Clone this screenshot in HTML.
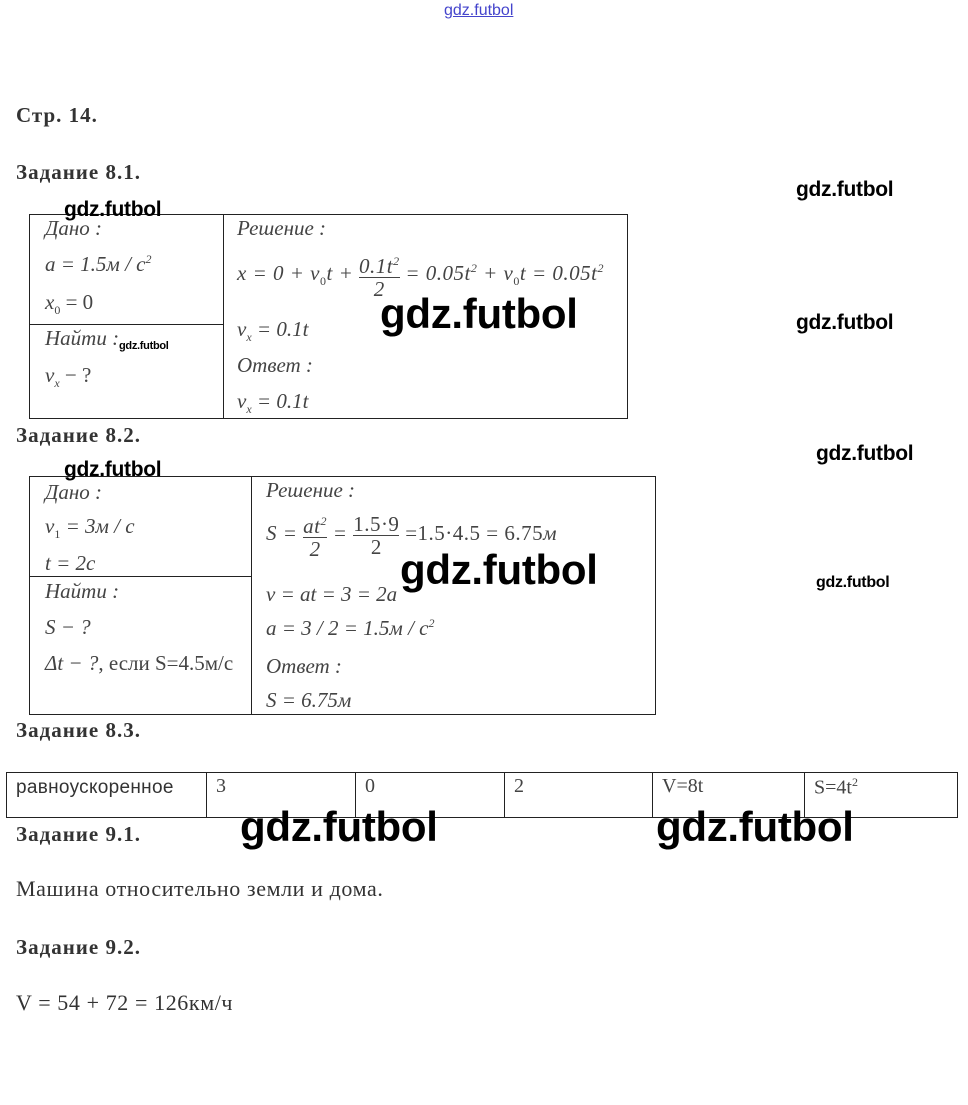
<!DOCTYPE html>
<html><head><meta charset="utf-8"><style>
body{margin:0;width:968px;height:1105px;background:#fff;position:relative;overflow:hidden;font-family:"Liberation Serif",serif;color:#222}
.a{position:absolute;white-space:nowrap}
.h{font-weight:bold;font-size:21px;color:#333;letter-spacing:1px}
.m{font-style:italic;font-size:21px;color:#444}
.n{font-style:normal}
.w{font-family:"Liberation Sans","DejaVu Sans",sans-serif;color:#000;font-weight:bold;letter-spacing:-0.3px}
.box{position:absolute;border:1px solid #222}
.l{position:absolute;background:#222}
sub,sup{font-size:12px}
.fr{display:inline-block;vertical-align:middle;text-align:center}
.fr span{display:block;line-height:22px}
.fr .t{border-bottom:1px solid #444}
</style></head><body>
<div class="a" style="left:444px;top:2px;font-size:16px;color:#4444cc;text-decoration:underline;font-family:'Liberation Sans',sans-serif">gdz.futbol</div>
<div class="a h" style="left:16px;top:103px">Стр. 14.</div>
<div class="a h" style="left:16px;top:160px">Задание 8.1.</div>
<div class="a w" style="left:796px;top:178px;font-size:21px">gdz.futbol</div>
<div class="a w" style="left:796px;top:311px;font-size:21px">gdz.futbol</div>

<div class="box" style="left:29px;top:214px;width:597px;height:203px"></div>
<div class="l" style="left:223px;top:214px;width:1px;height:204px"></div>
<div class="l" style="left:29px;top:324px;width:194px;height:1px"></div>
<div class="a m" style="left:45px;top:216px">Дано :</div>
<div class="a m" style="left:45px;top:252px">a = 1.5<span>м / с</span><sup>2</sup></div>
<div class="a m" style="left:45px;top:290px">x<sub class="n">0</sub> <span class="n">= 0</span></div>
<div class="a m" style="left:45px;top:326px">Найти :</div>
<div class="a m" style="left:45px;top:363px">v<sub>x</sub> <span class="n">− ?</span></div>
<div class="a m" style="left:237px;top:216px">Решение :</div>
<div class="a m" style="left:237px;top:250px;letter-spacing:0.5px">x = 0 + v<sub class="n">0</sub>t + <span class="fr"><span class="t">0.1t<sup>2</sup></span><span>2</span></span> = 0.05t<sup>2</sup> + v<sub class="n">0</sub>t = 0.05t<sup>2</sup></div>
<div class="a m" style="left:237px;top:317px">v<sub>x</sub> = 0.1t</div>
<div class="a m" style="left:237px;top:353px">Ответ :</div>
<div class="a m" style="left:237px;top:389px">v<sub>x</sub> = 0.1t</div>
<div class="a w" style="left:64px;top:198px;font-size:21px">gdz.futbol</div>
<div class="a w" style="left:119px;top:340px;font-size:11px">gdz.futbol</div>
<div class="a w" style="left:380px;top:290px;font-size:42px">gdz.futbol</div>

<div class="a h" style="left:16px;top:423px">Задание 8.2.</div>
<div class="a w" style="left:816px;top:442px;font-size:21px">gdz.futbol</div>
<div class="a w" style="left:816px;top:574px;font-size:16px">gdz.futbol</div>
<div class="box" style="left:29px;top:476px;width:625px;height:237px"></div>
<div class="l" style="left:251px;top:476px;width:1px;height:238px"></div>
<div class="l" style="left:29px;top:576px;width:222px;height:1px"></div>
<div class="a w" style="left:64px;top:458px;font-size:21px">gdz.futbol</div>
<div class="a m" style="left:45px;top:480px">Дано :</div>
<div class="a m" style="left:45px;top:514px">v<sub class="n">1</sub> = 3м / с</div>
<div class="a m" style="left:45px;top:551px">t = 2с</div>
<div class="a m" style="left:45px;top:579px">Найти :</div>
<div class="a m" style="left:45px;top:615px">S − ?</div>
<div class="a m" style="left:45px;top:651px">Δt − ?<span class="n">, если S=4.5м/с</span></div>
<div class="a m" style="left:266px;top:478px">Решение :</div>
<div class="a m" style="left:266px;top:510px;letter-spacing:0.5px">S = <span class="fr"><span class="t">at<sup>2</sup></span><span>2</span></span> = <span class="fr n"><span class="t">1.5·9</span><span>2</span></span> <span class="n">=1.5·4.5 = 6.75</span>м</div>
<div class="a m" style="left:266px;top:582px">v = at = 3 = 2a</div>
<div class="a m" style="left:266px;top:616px">a = 3 / 2 = 1.5м / с<sup>2</sup></div>
<div class="a m" style="left:266px;top:654px">Ответ :</div>
<div class="a m" style="left:266px;top:688px">S = 6.75м</div>
<div class="a w" style="left:400px;top:546px;font-size:42px">gdz.futbol</div>

<div class="a h" style="left:16px;top:718px">Задание 8.3.</div>
<div class="box" style="left:6px;top:772px;width:950px;height:44px"></div>
<div class="l" style="left:206px;top:772px;width:1px;height:45px"></div>
<div class="l" style="left:355px;top:772px;width:1px;height:45px"></div>
<div class="l" style="left:504px;top:772px;width:1px;height:45px"></div>
<div class="l" style="left:652px;top:772px;width:1px;height:45px"></div>
<div class="l" style="left:804px;top:772px;width:1px;height:45px"></div>
<div class="a" style="left:16px;top:777px;font-family:'Liberation Sans',sans-serif;font-size:19px;color:#333;letter-spacing:0.3px">равноускоренное</div>
<div class="a" style="left:216px;top:775px;font-size:20px;color:#444">3</div>
<div class="a" style="left:365px;top:775px;font-size:20px;color:#444">0</div>
<div class="a" style="left:514px;top:775px;font-size:20px;color:#444">2</div>
<div class="a" style="left:662px;top:775px;font-size:20px;color:#444">V=8t</div>
<div class="a" style="left:814px;top:775px;font-size:20px;color:#444">S=4t<sup>2</sup></div>

<div class="a h" style="left:16px;top:822px">Задание 9.1.</div>
<div class="a w" style="left:240px;top:803px;font-size:42px">gdz.futbol</div>
<div class="a w" style="left:656px;top:803px;font-size:42px">gdz.futbol</div>
<div class="a" style="left:16px;top:876px;font-size:22px;color:#333;letter-spacing:0.6px">Машина относительно земли и дома.</div>
<div class="a h" style="left:16px;top:935px">Задание 9.2.</div>
<div class="a" style="left:16px;top:990px;font-size:22px;color:#333;letter-spacing:0.6px">V = 54 + 72 = 126км/ч</div>
</body></html>
